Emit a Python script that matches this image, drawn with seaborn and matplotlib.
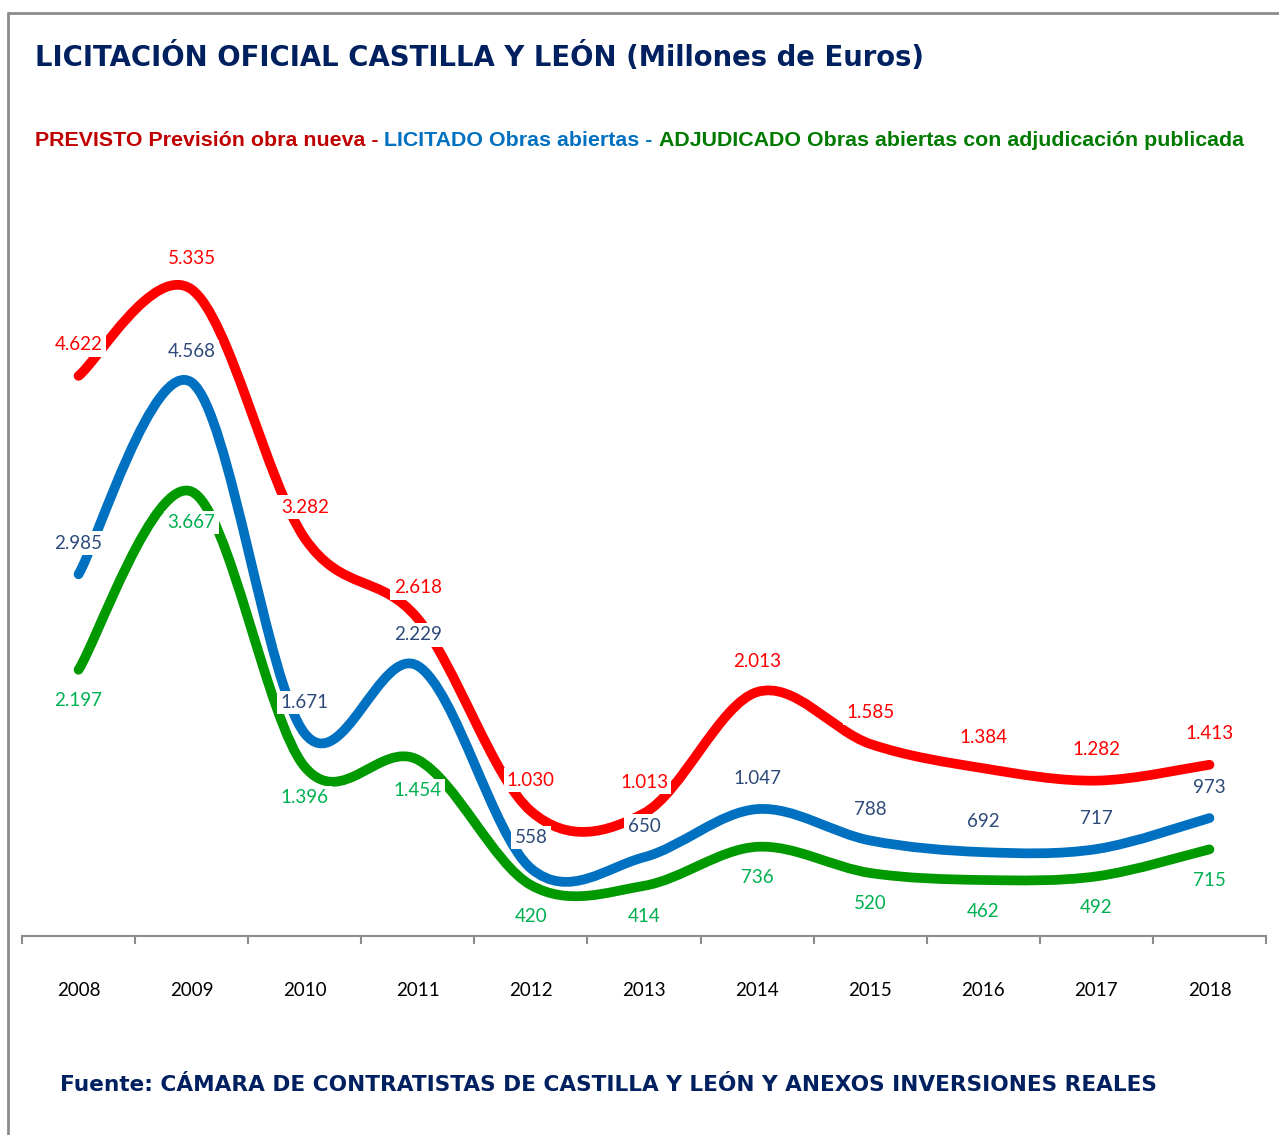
"""Licitación oficial Castilla y León, 2008-2018 (smoothed line chart)."""

import numpy as np
import matplotlib
matplotlib.use("Agg")
import matplotlib.pyplot as plt
from matplotlib.path import Path
from matplotlib.patches import PathPatch
from matplotlib.lines import Line2D
import seaborn as sns

years = ["2008", "2009", "2010", "2011", "2012", "2013",
         "2014", "2015", "2016", "2017", "2018"]
previsto = [4622, 5335, 3282, 2618, 1030, 1013, 2013, 1585, 1384, 1282, 1413]
licitado = [2985, 4568, 1671, 2229, 558, 650, 1047, 788, 692, 717, 973]
adjudicado = [2197, 3667, 1396, 1454, 420, 414, 736, 520, 462, 492, 715]

title = "LICITACIÓN OFICIAL CASTILLA Y LEÓN (Millones de Euros)"
subtitle_parts = [
    ("PREVISTO Previsión obra nueva - ", "#C00000"),
    ("LICITADO Obras abiertas - ", "#0070C0"),
    ("ADJUDICADO Obras abiertas con adjudicación publicada", "#007A00"),
]
source = "Fuente: CÁMARA DE CONTRATISTAS DE CASTILLA Y LEÓN Y ANEXOS INVERSIONES REALES"

NAVY = "#002060"

sns.set_theme(style="white")
plt.rcParams["font.family"] = ["Lato", "DejaVu Sans"]

W, H = 1279, 1135
fig = plt.figure(figsize=(W / 100, H / 100), dpi=100)
ax = fig.add_axes([22 / W, (H - 936) / H, (1266 - 22) / W, 735 / H])
ax.set_xlim(-0.5, len(years) - 0.5)
ax.set_ylim(0, 6065)


def smooth_path(values):
    """Excel-like smoothed line: cubic Bezier segments with Catmull-Rom handles."""
    pts = np.column_stack([np.arange(len(values)), values]).astype(float)
    verts = [pts[0]]
    codes = [Path.MOVETO]
    n = len(pts)
    for i in range(n - 1):
        p0 = pts[max(i - 1, 0)]
        p1, p2 = pts[i], pts[i + 1]
        p3 = pts[min(i + 2, n - 1)]
        verts += [p1 + (p2 - p0) / 6, p2 - (p3 - p1) / 6, p2]
        codes += [Path.CURVE4] * 3
    return Path(verts, codes)


series = [
    (previsto, "#FF0000", "#FF0000", 31),
    (licitado, "#0070C0", "#2E4A7A", 31),
    (adjudicado, "#009900", "#00B050", -31),
]

for values, line_color, label_color, offset in series:
    ax.add_patch(PathPatch(smooth_path(values), facecolor="none",
                           edgecolor=line_color, lw=7,
                           capstyle="round", joinstyle="round", zorder=2))

for values, line_color, label_color, offset in series:
    for i, v in enumerate(values):
        txt = f"{v:,}".replace(",", ".")
        ax.annotate(txt, (i, v), xytext=(0, offset), textcoords="offset pixels",
                    ha="center", va="center", fontsize=13.5, color=label_color,
                    zorder=5,
                    bbox=dict(boxstyle="square,pad=0.18", fc="white", ec="none"))

# axis styling
sns.despine(ax=ax, left=True, top=True, right=True)
ax.spines["bottom"].set_color("#8C8C8C")
ax.spines["bottom"].set_linewidth(1.5)
ax.set_yticks([])
ax.set_xticks(range(len(years)))
ax.set_xticklabels(years, fontsize=13.5, color="black")
ax.tick_params(axis="x", which="major", length=0, pad=33)
ax.set_xticks(np.arange(-0.5, len(years)), minor=True)
ax.tick_params(axis="x", which="minor", length=6, width=1.5,
               color="#8C8C8C", direction="out", bottom=True)
ax.grid(False)

# titles
fig.text(35 / W, 1 - 57 / H, title, fontsize=19.8, fontweight="bold",
         color=NAVY, family="DejaVu Sans", va="center", ha="left")

renderer = fig.canvas.get_renderer()
x = 35 / W
for part, color in subtitle_parts:
    t = fig.text(x, 1 - 140 / H, part, fontsize=15.4, fontweight="bold",
                 color=color, family="Liberation Sans", va="center", ha="left")
    bb = t.get_window_extent(renderer=renderer)
    x += bb.width / W

fig.text(60 / W, 1 - 1085 / H, source, fontsize=15.6, fontweight="bold",
         color=NAVY, family="DejaVu Sans", va="center", ha="left")

# outer frame (top and left edges)
frame_kw = dict(color="#8C8C8C", lw=2, transform=fig.transFigure)
fig.add_artist(Line2D([8 / W, 1], [1 - 13 / H, 1 - 13 / H], **frame_kw))
fig.add_artist(Line2D([8 / W, 8 / W], [0, 1 - 13 / H], **frame_kw))

fig.savefig("out.png", dpi=100, facecolor="white")
